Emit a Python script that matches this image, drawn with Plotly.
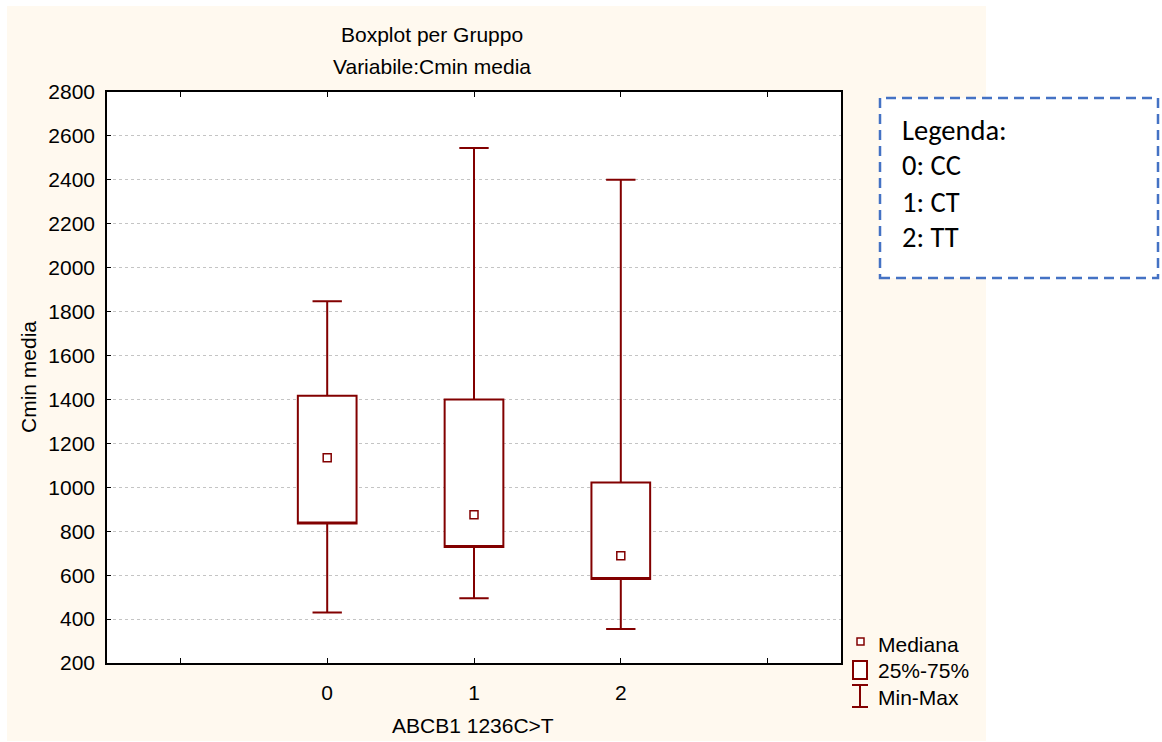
import plotly.graph_objects as go

# ---- data ----
groups = [0, 1, 2]
x_ticktext = ["", "0", "1", "2", ""]
x_tickvals = [-1, 0, 1, 2, 3]
mins = [430, 495, 355]
q1 = [835, 728, 582]
medians = [1135, 875, 688]
q3 = [1417, 1400, 1022]
maxs = [1847, 2545, 2400]
legend_items = ["Mediana", "25%-75%", "Min-Max"]
key_lines = ["Legenda:", "0: CC", "1: CT", "2: TT"]

RED = "#820000"
CREAM = "#FFF9EF"
FONT = "Arial, Liberation Sans, sans-serif"
FS = 21

W, H = 1162, 742          # window size
L, R, T, B = 107, 841, 92, 663  # plot area in window pixels


def px(x):
    return (x - L) / (R - L)


def py(y):
    return (B - y) / (B - T)


fig = go.Figure()

fig.add_trace(go.Box(
    x=groups, q1=q1, median=q1, q3=q3,
    lowerfence=mins, upperfence=maxs,
    width=0.4, whiskerwidth=0.5,
    line=dict(color=RED, width=2), fillcolor="white",
    boxpoints=False, showlegend=False, hoverinfo="skip",
))
fig.add_trace(go.Scatter(
    x=groups, y=medians, mode="markers",
    marker=dict(symbol="square", size=8, color="white",
                line=dict(color=RED, width=1.5)),
    showlegend=False, hoverinfo="skip",
))

shapes = [
    dict(type="rect", xref="paper", yref="paper", layer="below",
         x0=px(7), x1=px(986), y0=py(741), y1=py(6),
         fillcolor=CREAM, line=dict(width=0)),
    dict(type="rect", xref="paper", yref="paper", layer="below",
         x0=0, x1=1, y0=0, y1=1, fillcolor="white", line=dict(width=0)),
    # dashed key box
    dict(type="rect", xref="paper", yref="paper",
         x0=px(880), x1=px(1158), y0=py(278), y1=py(98),
         fillcolor="white", line=dict(color="#4472C4", width=2.5, dash="10px,6px")),
    # legend symbols
    dict(type="rect", xref="paper", yref="paper",
         x0=px(857), x1=px(864), y0=py(645), y1=py(638),
         fillcolor="white", line=dict(color=RED, width=1.5)),
    dict(type="rect", xref="paper", yref="paper",
         x0=px(853), x1=px(867), y0=py(679), y1=py(661),
         fillcolor="white", line=dict(color=RED, width=2)),
    dict(type="line", xref="paper", yref="paper",
         x0=px(860), x1=px(860), y0=py(707), y1=py(685),
         line=dict(color=RED, width=2)),
    dict(type="line", xref="paper", yref="paper",
         x0=px(852), x1=px(868), y0=py(685), y1=py(685),
         line=dict(color=RED, width=2)),
    dict(type="line", xref="paper", yref="paper",
         x0=px(852), x1=px(868), y0=py(707), y1=py(707),
         line=dict(color=RED, width=2)),
]

annotations = [
    dict(text="Boxplot per Gruppo", x=px(432), y=py(35), xref="paper", yref="paper",
         showarrow=False, xanchor="center", yanchor="middle", font=dict(size=FS)),
    dict(text="Variabile:Cmin media", x=px(432), y=py(67), xref="paper", yref="paper",
         showarrow=False, xanchor="center", yanchor="middle", font=dict(size=FS)),
    dict(text="Cmin media", x=px(28), y=py(377), xref="paper", yref="paper",
         showarrow=False, xanchor="center", yanchor="middle", textangle=-90,
         font=dict(size=FS)),
    dict(text="ABCB1 1236C>T", x=px(473), y=py(725), xref="paper", yref="paper",
         showarrow=False, xanchor="center", yanchor="middle", font=dict(size=FS)),
]
for i, t in enumerate(legend_items):
    annotations.append(dict(text=t, x=px(876), y=py(644 + 26.5 * i), xref="paper", yref="paper",
                            showarrow=False, xanchor="left", yanchor="middle",
                            font=dict(size=FS)))
key_y = [130, 165, 202, 237]
for t, yy in zip(key_lines, key_y):
    annotations.append(dict(text=t, x=px(900), y=py(yy), xref="paper", yref="paper",
                            showarrow=False, xanchor="left", yanchor="middle",
                            font=dict(size=28.5, family="Carlito, Calibri, Lato, sans-serif")))

fig.update_layout(
    width=W, height=H,
    margin=dict(l=L, r=W - R, t=T, b=H - B, pad=0),
    paper_bgcolor="white", plot_bgcolor="white",
    font=dict(family=FONT, size=FS, color="black"),
    shapes=shapes, annotations=annotations,
    showlegend=False,
    xaxis=dict(range=[-1.5, 3.5], tickvals=x_tickvals, ticktext=x_ticktext,
               ticks="inside", ticklen=5, tickwidth=1.2, tickcolor="black",
               showline=True, linecolor="black", linewidth=1.5, mirror="ticks",
               showgrid=False, zeroline=False, ticklabelstandoff=10),
    yaxis=dict(range=[200, 2800], dtick=200, tick0=200,
               ticks="inside", ticklen=4, tickwidth=1.2, tickcolor="black",
               showline=True, linecolor="black", linewidth=1.5, mirror=True,
               showgrid=True, gridcolor="#C4C4C4", griddash="dot", gridwidth=1,
               zeroline=False, ticklabelstandoff=6),
)

fig.write_html(
    "out.html",
    config={"displayModeBar": False},
    post_script="document.body.style.margin='0';document.body.style.overflow='hidden';",
)
